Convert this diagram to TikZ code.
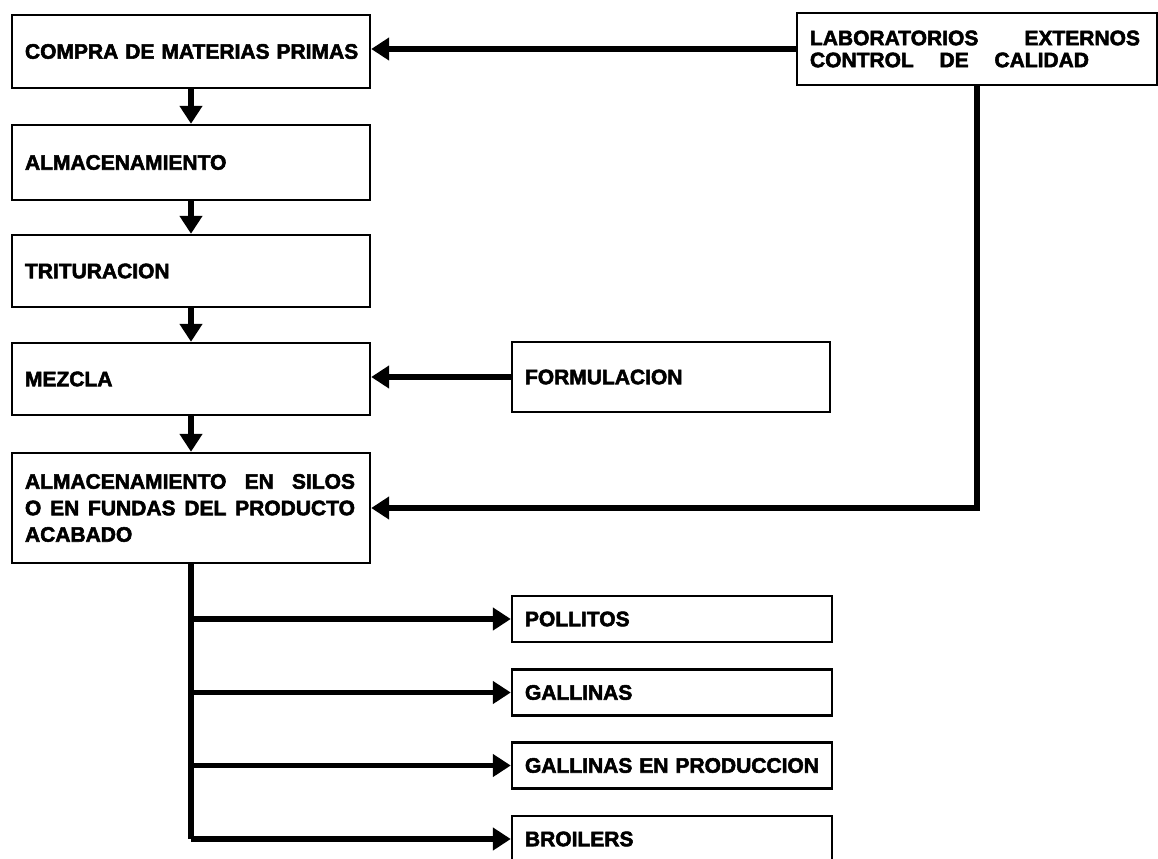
\documentclass[tikz,border=0pt]{standalone}
\usepackage{fontspec}
\newfontfamily\boxfont{Liberation Sans}[BoldFeatures={FakeBold=2.5}]
\usetikzlibrary{arrows.meta}
\begin{document}
\begin{tikzpicture}[x=.5pt,y=-.5pt,
  box/.style={draw,line width=1.2pt,inner xsep=6.5pt,inner ysep=0pt,align=left,
    font=\boxfont\bfseries\fontsize{10.5}{13.25}\selectfont},
  stagebox/.style={box,text width=166pt},
  outbox/.style={box,text width=147pt,minimum height=23pt},
  flow/.style={line width=2.8pt,-{Triangle[length=9pt,width=11pt]}},
  feed/.style={line width=2.8pt}]
  \useasboundingbox (0,0) rectangle (1158,858);
  \node[stagebox,minimum height=36.5pt] (compra) at (191,51.5) {\mbox{COMPRA DE MATERIAS PRIMAS}};
  \node[stagebox,minimum height=37.5pt] (almac) at (191,162.5) {ALMACENAMIENTO};
  \node[stagebox,minimum height=36pt] (tritur) at (191,271) {TRITURACION};
  \node[stagebox,minimum height=36pt] (mezcla) at (191,379) {MEZCLA};
  \node[stagebox,minimum height=55pt] (silos) at (191,508)
    {\makebox[165pt][l]{ALMACENAMIENTO\hfill EN\hfill SILOS}\\
     \makebox[165pt][l]{O\hfill EN\hfill FUNDAS\hfill DEL\hfill PRODUCTO}\\ACABADO};
  \node[box,text width=167pt,minimum height=36pt,
    font=\boxfont\bfseries\fontsize{10.5}{11}\selectfont] (lab) at (977,49)
    {\makebox[165pt][l]{LABORATORIOS\hfill EXTERNOS}\\
     \makebox[139.5pt][l]{CONTROL\hfill DE\hfill CALIDAD}};
  \node[box,text width=146pt,minimum height=35pt] (formul) at (671,377) {FORMULACION};
  \node[outbox] (pollo) at (672,619) {POLLITOS};
  \node[outbox] (gall) at (672,692.5) {GALLINAS};
  \node[outbox] (prod) at (672,765.5) {\mbox{GALLINAS EN PRODUCCION}};
  \node[outbox] (broil) at (672,839) {BROILERS};
  \draw[flow] (compra) -- (almac);
  \draw[flow] (almac) -- (tritur);
  \draw[flow] (tritur) -- (mezcla);
  \draw[flow] (mezcla) -- (silos);
  \draw[flow] (lab.west) -- (lab.west -| compra.east);
  \draw[flow] (formul.west) -- (formul.west -| mezcla.east);
  \draw[flow] (lab.south) |- (silos.east);
  \draw[feed] (silos.south) -- (silos.south |- broil.west);
  \foreach \n in {pollo,gall,prod,broil}
    \draw[flow] (silos.south |- \n.west) -- (\n.west);
\end{tikzpicture}
\end{document}
